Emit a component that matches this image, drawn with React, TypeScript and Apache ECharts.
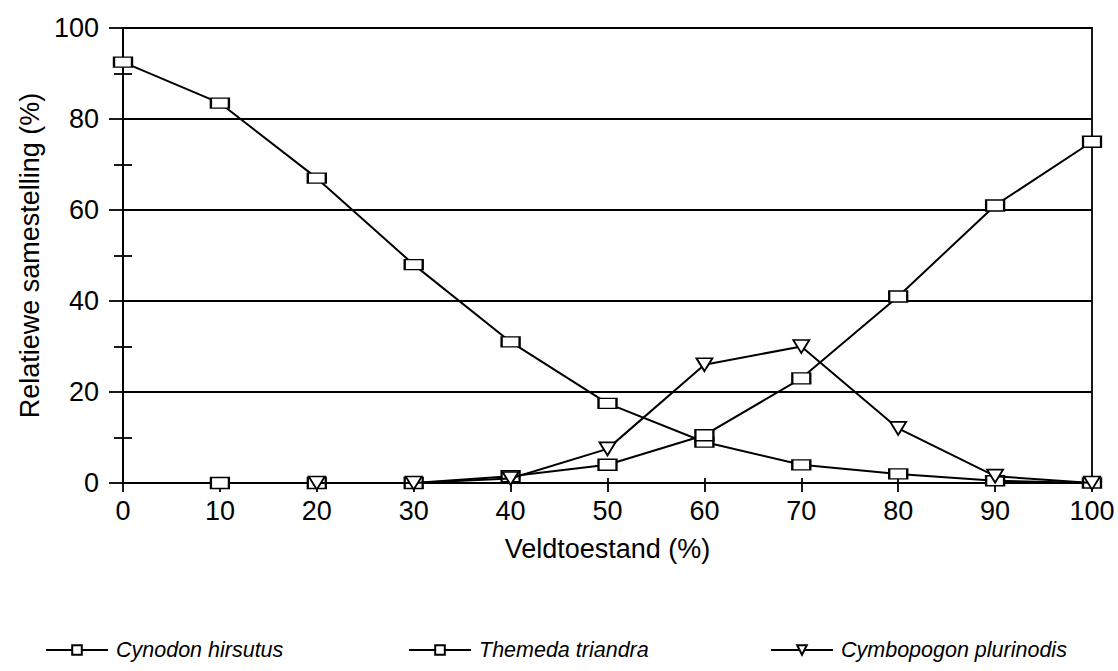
import React, { useEffect, useRef } from "react";
import * as echarts from "echarts";

const xValues = [0, 10, 20, 30, 40, 50, 60, 70, 80, 90, 100];
const cynodon: (number | null)[] = [92.5, 83.5, 67, 48, 31, 17.5, 9, 4, 2, 0.5, 0];
const themeda: (number | null)[] = [null, 0, 0, 0, 1.5, 4, 10.5, 23, 41, 61, 75];
const cymbopogon: (number | null)[] = [null, null, 0, 0, 1, 7.5, 26, 30, 12, 1.5, 0];
const seriesNames = ["Cynodon hirsutus", "Themeda triandra", "Cymbopogon plurinodis"];

const FONT = "Liberation Sans, Arial, Helvetica, sans-serif";

function pairs(vals: (number | null)[]) {
  return xValues
    .map((x, i) => [x, vals[i]])
    .filter((p) => p[1] !== null);
}

export default function App() {
  const ref = useRef<HTMLDivElement>(null);
  useEffect(() => {
    if (!ref.current) return;
    const chart = echarts.init(ref.current, null, { renderer: "svg" });
    const lineStyle = { color: "#000", width: 2 };
    const itemStyle = { color: "#fff", borderColor: "#000", borderWidth: 1.8 };
    const legendBase = {
      bottom: 5,
      itemWidth: 62,
      itemHeight: 12,
      textStyle: { fontFamily: FONT, fontSize: 21.5, fontStyle: "italic", color: "#000", padding: [0, 0, 0, 3] },
      selectedMode: false,
    };
    chart.setOption({
      animation: false,
      backgroundColor: "#fff",
      grid: {
        left: 123,
        right: 26,
        top: 28,
        bottom: 188,
        show: true,
        borderColor: "#000",
        borderWidth: 1.8,
        backgroundColor: "transparent",
      },
      legend: [
        { ...legendBase, left: 40, data: [seriesNames[0]] },
        { ...legendBase, left: 403, data: [seriesNames[1]] },
        { ...legendBase, left: 765, data: [seriesNames[2]] },
      ],
      xAxis: [
        {
          type: "value",
          min: 0,
          max: 100,
          interval: 10,
          name: "Veldtoestand (%)",
          nameLocation: "middle",
          nameGap: 52,
          nameTextStyle: { fontFamily: FONT, fontSize: 27, color: "#000" },
          axisLine: { show: true, lineStyle: { color: "#000", width: 1.8 } },
          axisTick: { show: true, length: 9, lineStyle: { color: "#000", width: 1.8 } },
          axisLabel: { fontFamily: FONT, fontSize: 27, color: "#000", margin: 14 },
          splitLine: { show: false },
        },
        {
          type: "value",
          min: 0,
          max: 100,
          interval: 10,
          position: "bottom",
          axisLine: { show: false },
          axisTick: { show: true, inside: true, length: 5, lineStyle: { color: "#000", width: 1.8 } },
          axisLabel: { show: false },
          splitLine: { show: false },
        },
      ],
      yAxis: [
        {
          type: "value",
          min: 0,
          max: 100,
          interval: 20,
          name: "Relatiewe samestelling (%)",
          nameLocation: "middle",
          nameRotate: 90,
          nameGap: 76,
          nameTextStyle: { fontFamily: FONT, fontSize: 27, color: "#000" },
          axisLine: { show: true, lineStyle: { color: "#000", width: 1.8 } },
          axisTick: { show: true, length: 14, lineStyle: { color: "#000", width: 1.8 } },
          minorTick: { show: true, splitNumber: 2, length: 9, lineStyle: { color: "#000", width: 1.8 } },
          axisLabel: { fontFamily: FONT, fontSize: 27, color: "#000", margin: 24 },
          splitLine: { show: true, lineStyle: { color: "#000", width: 1.8 } },
        },
        {
          type: "value",
          min: 0,
          max: 100,
          interval: 10,
          position: "left",
          axisLine: { show: false },
          axisTick: { show: true, inside: true, length: 9, lineStyle: { color: "#000", width: 1.8 } },
          axisLabel: { show: false },
          splitLine: { show: false },
        },
      ],
      series: [
        {
          name: seriesNames[0],
          type: "line",
          data: pairs(cynodon),
          symbol: "rect",
          symbolSize: [18, 10],
          showAllSymbol: true,
          lineStyle,
          itemStyle,
          z: 3,
        },
        {
          name: seriesNames[1],
          type: "line",
          data: pairs(themeda),
          symbol: "rect",
          symbolSize: [18, 11],
          showAllSymbol: true,
          lineStyle,
          itemStyle,
          z: 4,
        },
        {
          name: seriesNames[2],
          type: "line",
          data: pairs(cymbopogon),
          symbol: "triangle",
          symbolRotate: 180,
          symbolSize: [16, 13],
          showAllSymbol: true,
          lineStyle,
          itemStyle,
          z: 5,
        },
      ],
    });
    return () => chart.dispose();
  }, []);
  return <div ref={ref} style={{ width: 1118, height: 671, position: "absolute", left: 0, top: 0 }} />;
}
